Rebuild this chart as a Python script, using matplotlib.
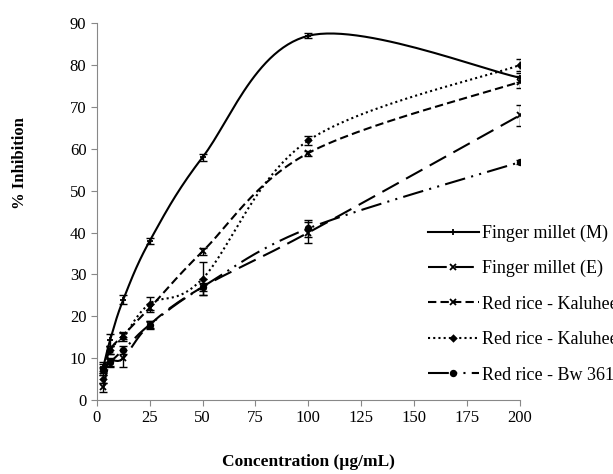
import numpy as np
import matplotlib
matplotlib.use("Agg")
import matplotlib.pyplot as plt

plt.rcParams['font.family'] = ['Liberation Serif', 'DejaVu Serif']

# data
conc = [3.125, 6.25, 12.5, 25, 50, 100, 200]
labels = ['Finger millet (M)', 'Finger millet (E)', 'Red rice - Kaluheenati (M)',
          'Red rice - Kaluheenati (E)', 'Red rice - Bw 361 (M)']
fm_m = [8.0, 14.3, 24.0, 38.0, 58.0, 87.0, 77.0]
fm_e = [3.0, 9.0, 10.0, 18.0, 27.0, 40.0, 68.0]
rk_m = [7.0, 12.0, 15.5, 22.0, 35.5, 59.0, 76.0]
rk_e = [5.0, 12.0, 15.0, 23.0, 29.0, 62.0, 80.0]
bw = [7.5, 9.0, 12.0, 18.0, 27.0, 41.0, 56.8]
fm_m_err = [1.0, 1.5, 1.0, 0.8, 0.8, 0.6, 1.0]
fm_e_err = [1.0, 0.8, 2.0, 0.8, 1.0, 2.5, 2.5]
rk_m_err = [1.0, 1.0, 0.8, 1.0, 0.8, 0.6, 1.5]
rk_e_err = [1.0, 1.0, 1.0, 1.5, 4.0, 1.0, 1.5]
bw_err = [1.0, 1.0, 1.0, 1.0, 2.0, 2.0, 0.5]


def excel_smooth(x, y, n=30):
    """Bezier smoothing like Excel's smoothed line."""
    p = np.column_stack([x, y]).astype(float)
    ext = np.vstack([p[0], p, p[-1]])
    xs, ys = [], []
    t = np.linspace(0, 1, n)[:, None]
    for i in range(len(p) - 1):
        p0, p3 = ext[i + 1], ext[i + 2]
        c1 = p0 + (ext[i + 2] - ext[i]) / 6.0
        c2 = p3 - (ext[i + 3] - ext[i + 1]) / 6.0
        seg = ((1 - t) ** 3) * p0 + 3 * ((1 - t) ** 2) * t * c1 + 3 * (1 - t) * t ** 2 * c2 + t ** 3 * p3
        xs.extend(seg[:, 0])
        ys.extend(seg[:, 1])
    return np.array(xs), np.array(ys)


fig = plt.figure(figsize=(6.13, 4.74), dpi=100)
ax = fig.add_axes([0.158, 0.156, 0.69, 0.795])

series = [fm_m, fm_e, rk_m, rk_e, bw]
errs = [fm_m_err, fm_e_err, rk_m_err, rk_e_err, bw_err]
styles = ['-', (0, (9, 4)), (0, (4, 2)), (0, (1, 1.5)), (0, (10, 3, 1, 3, 1, 3))]
markers = ['+', 'x', 'x', 'D', 'o']
msizes = [5, 4, 4, 3, 4]

for vals, err, ls, mk, ms, lab in zip(series, errs, styles, markers, msizes, labels):
    sx, sy = excel_smooth(conc, vals)
    ax.plot(sx, sy, color='black', lw=1.5, ls=ls)
    ax.errorbar(conc, vals, yerr=err, fmt='none', ecolor='black', elinewidth=1, capsize=3)
    ax.plot(conc, vals, ls='none', marker=mk, color='black', ms=ms, mew=1.3)
    ax.plot([], [], color='black', lw=1.5, ls=ls, marker=mk, ms=ms, mew=1.3, label=lab)

ax.set_xlim(0, 200)
ax.set_ylim(0, 90)
ax.set_xticks([0, 25, 50, 75, 100, 125, 150, 175, 200])
ax.set_yticks(range(0, 91, 10))
for s in ['top', 'right']:
    ax.spines[s].set_visible(False)
for s in ['left', 'bottom']:
    ax.spines[s].set_color('#888888')
ax.tick_params(colors='#888888', labelcolor='black', labelsize=12, length=4)

ax.set_xlabel('Concentration (µg/mL)', fontsize=12.5, fontweight='bold', labelpad=20)
fig.text(0.033, 0.656, '% Inhibition', rotation=90, fontsize=12, fontweight='bold',
         ha='center', va='center')

fig.legend(loc='upper left', bbox_to_anchor=(0.672, 0.56), frameon=False,
           fontsize=13, handlelength=2.8, handletextpad=0.2, labelspacing=1.0)

fig.savefig('out.png', dpi=100)
